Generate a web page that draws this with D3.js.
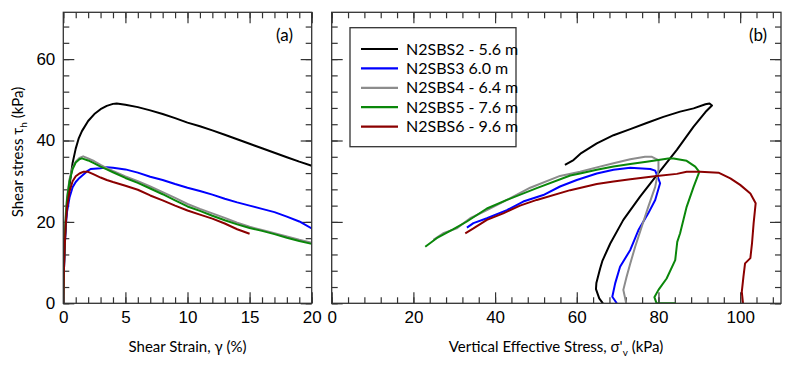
<!DOCTYPE html>
<html>
<head>
<meta charset="utf-8">
<script src="https://cdn.jsdelivr.net/npm/d3@7"></script>
<style>
  body { margin: 0; background: #fff; }
  svg { display: block; font-family: Lato, "Open Sans", sans-serif; }
  .tick text { font-size: 17px; fill: #000; }
  .tick line { stroke: #333; stroke-width: 1.2; }
</style>
</head>
<body>
<svg id="chart" width="806" height="367"></svg>
<script>
// stress-strain curves, [strain %, tau kPa]
var strainS2 = [[0,0],[0.05,8],[0.1,13],[0.2,20],[0.3,24.5],[0.5,29],[0.75,34.5],[1,38],[1.25,40.6],[1.5,42.3],[2,44.8],[2.5,46.5],[3,47.7],[3.5,48.5],[4,49],[4.3,49.1],[5,48.8],[6,48.2],[7,47.4],[8,46.5],[9,45.5],[10,44.4],[11,43.5],[12,42.5],[13,41.4],[14,40.3],[15,39.2],[16,38.1],[17,37],[18,35.9],[19,34.8],[20,33.8]]
var strainS3 = [[0,0],[0.05,8],[0.1,13],[0.2,19],[0.3,22.5],[0.5,26],[0.75,28.5],[1,29.8],[1.3,30.8],[1.6,31.6],[1.9,32.4],[2.2,33],[3,33.2],[3.5,33.4],[4,33.3],[5,32.9],[6,32.1],[7,31.1],[8,30.3],[9,29.3],[10,28.4],[11,27.6],[12,26.7],[13,25.7],[14,24.8],[15,24],[16,23.2],[17,22.4],[18,21.3],[19,20.1],[20,18.4]]
var strainS4 = [[0,0],[0.05,9],[0.1,15],[0.2,22],[0.3,26],[0.5,30.5],[0.75,33.3],[1,34.8],[1.3,35.7],[1.6,36.1],[2,35.6],[2.5,34.9],[3,34],[3.5,33.2],[4,32.5],[5,31.2],[6,30],[7,28.7],[8,27.3],[9,25.9],[10,24.4],[11,23.2],[12,22.1],[13,21],[14,19.8],[15,18.8],[16,18],[17,17.2],[18,16.4],[19,15.6],[20,14.9]]
var strainS5 = [[0,0],[0.05,9],[0.1,14],[0.2,21],[0.3,25.5],[0.5,30],[0.75,33],[1,34.6],[1.3,35.4],[1.5,35.6],[2,35.1],[2.5,34.4],[3,33.6],[3.5,32.9],[4,32.2],[5,30.8],[6,29.6],[7,28.2],[8,26.8],[9,25.3],[10,23.8],[11,22.7],[12,21.5],[13,20.4],[14,19.4],[15,18.5],[16,17.8],[17,17],[18,16.1],[19,15.3],[20,14.6]]
var strainS6 = [[0,0],[0.05,8],[0.1,13],[0.2,19.5],[0.3,23.5],[0.5,27.5],[0.75,30],[1,31.2],[1.3,31.9],[1.6,32.3],[2,32.3],[2.5,31.6],[3,30.9],[3.5,30.3],[4,29.8],[5,28.9],[6,27.9],[7,26.5],[8,25.3],[9,24],[10,22.8],[11,21.8],[12,20.8],[13,19.6],[14,18.2],[15,17.1]]

// stress paths, [sigma'v kPa, tau kPa]
var pathS2 = [[66.4,0],[65.5,1.2],[64.7,3.5],[64.8,5],[65.7,8.5],[66.3,10.5],[68.2,14.7],[71.4,20.5],[75.5,26.2],[79.6,31.5],[84.5,37.7],[88.6,43.4],[91.5,47],[93.1,48.6],[92.5,49.1],[91.5,48.9],[88.6,47.9],[85.3,47.1],[81.2,45.8],[77.1,44.3],[73.1,42.8],[69,41.3],[64.9,39.3],[61.1,36.9],[59.2,35.2],[57.1,34]]
var pathS3 = [[69.8,0],[68.7,1.6],[69.4,4.9],[70.6,9],[73.1,13.1],[75.1,18],[77.5,22.1],[79.2,25.4],[80.4,29.5],[79.8,31.1],[79.2,32.6],[78,33],[75,33.2],[73.1,33.3],[69,32.8],[64.9,31.9],[60,30.3],[55.9,28.7],[51.8,26.6],[46.9,25],[42.9,22.9],[38,20.9],[34.7,19.7],[33.1,18.6]]
var pathS4 = [[72.1,0],[71.4,3.3],[72.2,6.5],[73.1,9.8],[74.3,13.9],[75.9,18.8],[77.5,23.7],[79.2,28.6],[80,32.8],[80,35.2],[78.4,36],[76.7,36],[73.1,35.4],[69,34.4],[64.9,33.4],[60.8,32.3],[55.9,31.3],[48.6,28.4],[42.9,25.4],[38,22.9],[33.9,20.9],[30.6,18.4],[27.3,17.2],[24.9,15.6]]
var pathS5 = [[84.2,0],[79.5,0.1],[79,1.5],[80,3.3],[82,6.1],[84.1,10.6],[84.6,15.1],[85.3,17.2],[86.9,23.7],[88.6,28.6],[90,32.3],[89,33.6],[86.9,35],[83.7,35.6],[82.4,35.6],[77.1,34.8],[73.1,34.2],[69,33.6],[64.9,32.8],[60.8,31.9],[58.4,31.4],[50.2,28.3],[42.9,25.4],[38,23.3],[33.1,20.1],[29.8,18.2],[25.7,16],[22.9,13.9]]
var pathS6 = [[100.7,0],[100.4,2.8],[100.8,6.5],[101.2,9.8],[102.5,11.1],[102.9,14.7],[103.3,19.7],[103.8,24.6],[102.5,27],[100,29.1],[97.6,30.7],[94.7,32.1],[90.2,32.3],[86.9,32.3],[84.5,31.8],[79.6,31.3],[73.1,30.5],[69,29.9],[64.9,29.3],[58.4,27.8],[50.2,25.4],[46.1,24],[42,22.1],[38,20.5],[34.7,18.4],[32.7,17.2]]

var names = ['N2SBS2 - 5.6 m', 'N2SBS3 6.0 m', 'N2SBS4 - 6.4 m', 'N2SBS5 - 7.6 m', 'N2SBS6 - 9.6 m']
var colors = ['#000000', '#0000ff', '#8c8c8c', '#0a870a', '#8b0000']
var strainCurves = [strainS2, strainS3, strainS4, strainS5, strainS6]
var pathCurves = [pathS2, pathS3, pathS4, pathS5, pathS6]

var strainTicks = [0, 5, 10, 15, 20]
var sigmaTicks = [0, 20, 40, 60, 80, 100]
var tauTicks = [0, 20, 40, 60]

var svg = d3.select('#chart')
var plotTop = 12.3, plotBottom = 303.3

var y = d3.scaleLinear().domain([0, 71.5]).range([plotBottom, plotTop])
var xa = d3.scaleLinear().domain([0, 20]).range([63.3, 311.7])
var xb = d3.scaleLinear().domain([0, 110]).range([331.7, 781])

function ticks (g, axis, vals, size, labels) {
  g.call(axis.tickValues(vals).tickSize(-size).tickSizeOuter(0).tickPadding(8)
    .tickFormat(labels ? d3.format('d') : ''))
  g.select('.domain').remove()
}

function panel (x, xMajor, xMinor, yLabels, curves) {
  var h = plotBottom - plotTop
  var x0 = x.range()[0], x1 = x.range()[1]
  var w = x1 - x0
  var yMinor = d3.range(0, 71, 4)

  // bottom + top
  svg.append('g').attr('transform', 'translate(0,' + plotBottom + ')').call(ticks, d3.axisBottom(x), xMinor, 6, false)
  svg.append('g').attr('transform', 'translate(0,' + plotBottom + ')').call(ticks, d3.axisBottom(x), xMajor, 11, true)
  svg.append('g').attr('transform', 'translate(0,' + plotTop + ')').call(ticks, d3.axisTop(x), xMinor, 6, false)
  svg.append('g').attr('transform', 'translate(0,' + plotTop + ')').call(ticks, d3.axisTop(x), xMajor, 11, false)
  // left + right
  svg.append('g').attr('transform', 'translate(' + x0 + ',0)').call(ticks, d3.axisLeft(y), yMinor, 6, false)
  svg.append('g').attr('transform', 'translate(' + x0 + ',0)').call(ticks, d3.axisLeft(y), tauTicks, 11, yLabels)
  svg.append('g').attr('transform', 'translate(' + x1 + ',0)').call(ticks, d3.axisRight(y), yMinor, 6, false)
  svg.append('g').attr('transform', 'translate(' + x1 + ',0)').call(ticks, d3.axisRight(y), tauTicks, 11, false)

  svg.append('clipPath').attr('id', 'clip' + Math.round(x0))
    .append('rect').attr('x', x0).attr('y', plotTop).attr('width', w).attr('height', h)

  var line = d3.line().x(function(d){return x(d[0])}).y(function(d){return y(d[1])})
  svg.append('g').attr('clip-path', 'url(#clip' + Math.round(x0) + ')')
    .selectAll('path').data(curves).enter().append('path')
    .attr('d', line)
    .attr('fill', 'none')
    .attr('stroke', function(d, i){return colors[i]})
    .attr('stroke-width', 2)
    .attr('stroke-linejoin', 'round')

  svg.append('rect').attr('x', x0).attr('y', plotTop).attr('width', w).attr('height', h)
    .attr('fill', 'none').attr('stroke', '#333').attr('stroke-width', 1.3)
}

panel(xa, strainTicks, d3.range(0, 21, 1), true, strainCurves)
panel(xb, sigmaTicks, d3.range(0, 111, 4), false, pathCurves)

// x axis titles
svg.append('text').attr('x', 187.5).attr('y', 352).attr('text-anchor', 'middle')
  .style('font-size', '15px').text('Shear Strain, γ (%)')
var t2 = svg.append('text').attr('x', 556).attr('y', 352).attr('text-anchor', 'middle').style('font-size', '15px')
t2.append('tspan').text('Vertical Effective Stress, σ\'')
t2.append('tspan').attr('dy', 4).style('font-size', '10px').text('v')
t2.append('tspan').attr('dy', -4).text(' (kPa)')

// y axis title
var t3 = svg.append('text').attr('transform', 'translate(23,152) rotate(-90)').attr('text-anchor', 'middle').style('font-size', '15px')
t3.append('tspan').text('Shear stress τ')
t3.append('tspan').attr('dy', 4).style('font-size', '10px').text('h')
t3.append('tspan').attr('dy', -4).text(' (kPa)')

// panel tags
svg.append('text').attr('x', 293).attr('y', 41).attr('text-anchor', 'end').style('font-size', '17px').text('(a)')
svg.append('text').attr('x', 767).attr('y', 41).attr('text-anchor', 'end').style('font-size', '17px').text('(b)')

// legend
var lg = svg.append('g')
lg.append('rect').attr('x', 350).attr('y', 27.7).attr('width', 166).attr('height', 119)
  .attr('fill', '#fff').attr('stroke', '#333').attr('stroke-width', 1.3)
var item = lg.selectAll('g.item').data(names).enter().append('g')
  .attr('transform', function(d, i){return 'translate(0,' + (49 + i * 19.4) + ')'})
item.append('line').attr('x1', 361).attr('x2', 398)
  .attr('stroke', function(d, i){return colors[i]}).attr('stroke-width', 2.2)
item.append('text').attr('x', 406).attr('dy', '0.35em').style('font-size', '16px').text(function(d){return d})
</script>
</body>
</html>
